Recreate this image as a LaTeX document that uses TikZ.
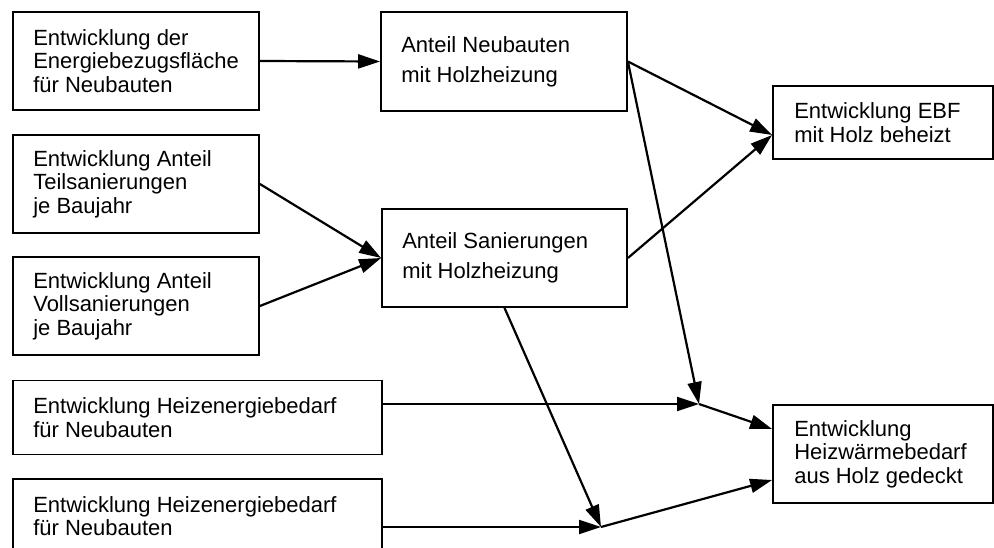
\documentclass[tikz,border=0pt]{standalone}
\usepackage{fontspec}
\setmainfont{Liberation Sans}
\usetikzlibrary{arrows.meta,calc}
\begin{document}
\begin{tikzpicture}[x=1pt,y=-1pt,
  box/.style={draw, line width=1.8pt, inner sep=0pt, rectangle},
  lbl/.style={inner sep=0pt, align=left, anchor=west, font=\fontsize{22}{23.5}\selectfont},
  lblwide/.style={lbl, font=\fontsize{22}{30}\selectfont},
  conn/.style={line width=2.2pt, -{Triangle[length=22pt,width=14pt]}}]
\useasboundingbox (0,0) rectangle (994,548);
\clip (0,0) rectangle (994,548);

% input boxes (left column)
\node[box, minimum width=246pt, minimum height=98pt] (a) at (136,61) {};
\node[lbl] (atxt) at ([xshift=21pt]a.west) {Entwicklung der\\Energiebezugsfläche\\für Neubauten};

\node[box, minimum width=246pt, minimum height=98pt] (t) at (136,184) {};
\node[lbl] (ttxt) at ([xshift=21pt]t.west) {Entwicklung Anteil\\Teilsanierungen\\je Baujahr};

\node[box, minimum width=246pt, minimum height=98pt] (v) at (136,306) {};
\node[lbl] (vtxt) at ([xshift=21pt]v.west) {Entwicklung Anteil\\Vollsanierungen\\je Baujahr};

\node[box, minimum width=369pt, minimum height=74pt] (h1) at (197.5,417.5) {};
\node[lbl] (h1txt) at ([xshift=21pt]h1.west) {Entwicklung Heizenergiebedarf\\für Neubauten};

\node[box, minimum width=369pt, minimum height=74pt] (h2) at (197.5,516) {};
\node[lbl] (h2txt) at ([xshift=21pt]h2.west) {Entwicklung Heizenergiebedarf\\für Neubauten};

% intermediate boxes
\node[box, minimum width=246pt, minimum height=99pt] (b) at (504,61.5) {};
\node[lblwide] (btxt) at ([xshift=21pt]b.west) {Anteil Neubauten\\mit Holzheizung};

\node[box, minimum width=245pt, minimum height=98pt] (s) at (504.5,258) {};
\node[lblwide] (stxt) at ([xshift=21pt]s.west) {Anteil Sanierungen\\mit Holzheizung};

% result boxes
\node[box, minimum width=220pt, minimum height=73pt] (ebf) at (883,122.5) {};
\node[lbl] (ebftxt) at ([xshift=22pt]ebf.west) {Entwicklung EBF\\mit Holz beheizt};

\node[box, minimum width=220pt, minimum height=98pt] (hw) at (883,454) {};
\node[lbl] (hwtxt) at ([xshift=22pt]hw.west) {Entwicklung\\Heizwärmebedarf\\aus Holz gedeckt};

% junction points
\coordinate (j1) at (699,404);
\coordinate (j2) at (601,527);
\coordinate (ebfin) at ([yshift=-12.5pt]ebf.west);
\coordinate (hwin1) at ([yshift=25pt]hw.west);
\coordinate (hwin2) at ([yshift=-26pt]hw.west);

% connectors
\draw[conn] (a.east) -- (b.west);
\draw[conn] (t.east) -- (s.west);
\draw[conn] (v.east) -- (s.west);
\draw[conn] (b.east) -- (ebfin);
\draw[conn] (s.east) -- (ebfin);
\draw[conn] (b.east) -- (j1);
\draw[conn] (h1.east |- j1) -- (j1);
\draw[conn] (j1) -- (hwin1);
\draw[conn] (s.south) -- (j2);
\draw[conn] (h2.east |- j2) -- (j2);
\draw[conn] (j2) -- (hwin2);
\end{tikzpicture}
\end{document}
